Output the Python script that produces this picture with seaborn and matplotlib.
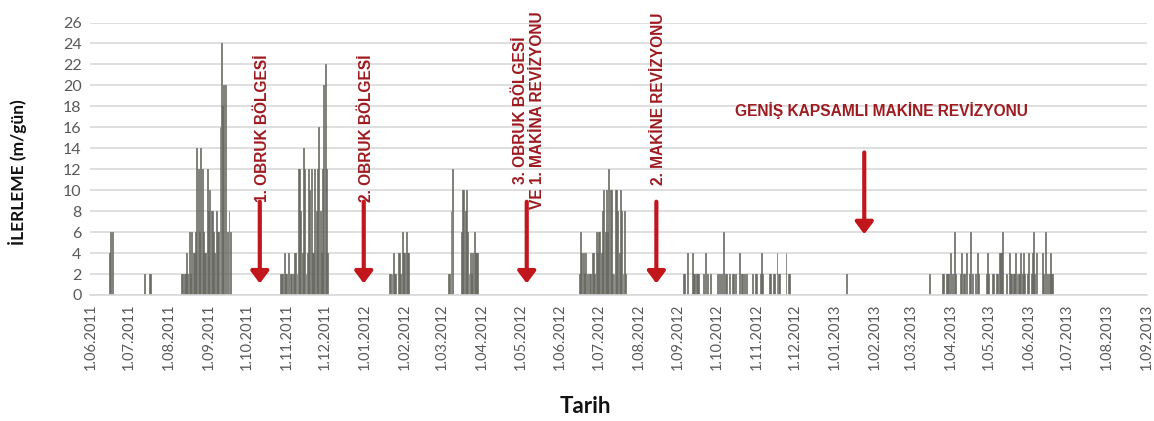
import pandas as pd
import matplotlib
matplotlib.use("Agg")
import matplotlib.pyplot as plt
import matplotlib.dates as mdates
import seaborn as sns

# Daily tunnel advance (m/day): each run starts on the given date and lists consecutive days
jun_2011_start = "2011-06-16"
jun_2011 = [4, 6, 6]

jul_2011_start = "2011-07-13"
jul_2011 = [2, 0, 0, 0, 2, 2]

aug_sep_2011_start = "2011-08-11"
aug_sep_2011 = [2, 2, 2, 2, 4, 2, 6, 2, 6, 4, 4, 6, 14, 12, 6, 14, 12, 6, 4, 4,
                12, 8, 10, 8, 8, 6, 4, 8, 6, 6, 16, 24, 18, 20, 20, 0, 6, 8, 6]

oct_dec_2011_start = "2011-10-27"
oct_dec_2011 = [2, 2, 2, 4, 2, 2, 4, 0, 2, 2, 2, 4, 4, 2, 12, 12, 8, 4, 14, 12,
                2, 4, 12, 10, 12, 4, 4, 12, 8, 12, 16, 8, 4, 12, 20, 22, 12, 4]

jan_feb_2012_start = "2012-01-20"
jan_feb_2012 = [2, 2, 2, 4, 2, 2, 0, 4, 4, 2, 6, 4, 4, 6, 4, 4]

mar_2012_start = "2012-03-06"
mar_2012 = [2, 2, 8, 12, 0, 0, 0, 0, 0, 0, 6, 10, 10, 8, 10, 6, 2, 4, 2, 4,
            6, 4, 4, 4]

jun_jul_2012_start = "2012-06-16"
jun_jul_2012 = [2, 6, 4, 4, 2, 4, 2, 0, 2, 2, 4, 4, 2, 6, 4, 6, 6, 4, 8, 10,
                6, 10, 6, 12, 10, 10, 2, 2, 10, 10, 8, 4, 10, 8, 2, 8, 2]

sep_nov_2012_start = "2012-09-05"
sep_nov_2012 = [2, 2, 0, 4, 0, 0, 0, 4, 2, 2, 2, 2, 2, 0, 0, 0, 2, 4, 0, 2,
                0, 2, 0, 0, 0, 0, 0, 2, 2, 0, 2, 6, 0, 2, 2, 0, 2, 0, 2, 2,
                0, 2, 0, 0, 4, 2, 2, 0, 2, 2, 0, 0, 0, 0, 2, 0, 2, 2, 0, 0,
                2, 4, 2, 0, 0, 0, 0, 2, 2, 0, 2, 2, 0, 4, 2, 2, 0, 0, 0, 0,
                4, 0, 2, 2]

jan_2013_start = "2013-01-10"
jan_2013 = [2]

mar_jun_2013_start = "2013-03-16"
mar_jun_2013 = [2, 0, 0, 0, 0, 0, 0, 0, 0, 0, 2, 2, 0, 2, 2, 2, 4, 0, 2, 6,
                2, 0, 0, 0, 2, 4, 2, 2, 0, 4, 0, 2, 6, 2, 0, 0, 2, 4, 2, 0,
                0, 0, 0, 0, 2, 4, 2, 0, 0, 2, 2, 0, 2, 2, 4, 4, 4, 6, 0, 0,
                2, 0, 4, 2, 2, 2, 2, 4, 2, 2, 2, 4, 2, 4, 2, 0, 2, 4, 0, 2,
                4, 6, 2, 4, 0, 0, 0, 0, 4, 2, 6, 0, 2, 2, 4, 2, 2]

runs = [
    (jun_2011_start, jun_2011),
    (jul_2011_start, jul_2011),
    (aug_sep_2011_start, aug_sep_2011),
    (oct_dec_2011_start, oct_dec_2011),
    (jan_feb_2012_start, jan_feb_2012),
    (mar_2012_start, mar_2012),
    (jun_jul_2012_start, jun_jul_2012),
    (sep_nov_2012_start, sep_nov_2012),
    (jan_2013_start, jan_2013),
    (mar_jun_2013_start, mar_jun_2013),
]

# Axis range and month ticks
axis_start = "2011-06-01"
axis_end = "2013-09-01"
tick_dates = pd.date_range(axis_start, axis_end, freq="MS")
tick_labels = [f"{d.day}.{d.month:02d}.{d.year}" for d in tick_dates]
y_ticks = list(range(0, 27, 2))

# Event annotations
obruk1_date, obruk1_text = "2011-10-11", "1. OBRUK BÖLGESİ"
obruk2_date, obruk2_text = "2011-12-31", "2. OBRUK BÖLGESİ"
obruk3_date, obruk3_text = "2012-05-06", "3. OBRUK BÖLGESİ\nVE 1. MAKİNA REVİZYONU"
rev2_date, rev2_text = "2012-08-15", "2. MAKİNE REVİZYONU"
rev_big_date, rev_big_text = "2013-01-24", "GENİŞ KAPSAMLI MAKİNE REVİZYONU"

rows = []
for start, values in runs:
    t0 = pd.Timestamp(start)
    for i, v in enumerate(values):
        if v > 0:
            d = t0 + pd.Timedelta(days=i)
            rows.append({"num": mdates.date2num(d), "value": v})
df = pd.DataFrame(rows)

sns.set_theme(style="white")
plt.rcParams["font.family"] = ["Lato", "DejaVu Sans"]

fig = plt.figure(figsize=(11.54, 4.21), dpi=100)
ax = fig.add_axes([90 / 1154, (421 - 295) / 421, (1147 - 90) / 1154, (295 - 22.5) / 421])

sns.barplot(data=df, x="num", y="value", native_scale=True, errorbar=None,
            color="#b0b0a9", saturation=1, edgecolor="#52524c", linewidth=0.45,
            width=0.75, ax=ax)

x0 = mdates.date2num(pd.Timestamp(axis_start))
x1 = mdates.date2num(pd.Timestamp(axis_end))
ax.set_xlim(x0 - 0.3, x1 + 0.3)
ax.set_ylim(0, 26)

ax.set_yticks(y_ticks)
ax.set_yticklabels([str(v) for v in y_ticks], fontsize=11.5, color="#595959")
ax.set_xticks(mdates.date2num(tick_dates))
ax.set_xticklabels(tick_labels, rotation=90, fontsize=10.5, color="#595959")
ax.tick_params(axis="both", length=0, pad=6)

ax.yaxis.grid(True, color="#d9d9d9", linewidth=1.2)
ax.xaxis.grid(False)
ax.set_axisbelow(True)
for side in ["top", "right", "left"]:
    ax.spines[side].set_visible(False)
ax.spines["bottom"].set_color("#d9d9d9")
ax.spines["bottom"].set_linewidth(1.2)

ax.set_xlabel("Tarih", fontsize=16, fontweight="bold", color="#111111")
ax.xaxis.set_label_coords(0.469, -0.372)
ax.set_ylabel("İLERLEME (m/gün)", fontsize=12.5, fontweight="bold", color="#111111")
ax.yaxis.set_label_coords(-0.0595, 0.45)

text_red = "#9e1b20"
arrow_red = "#c0161c"
arrow_props = dict(arrowstyle="-|>,head_width=0.45,head_length=0.6", lw=3,
                   color=arrow_red, shrinkA=0, shrinkB=0, mutation_scale=12)
afont = dict(family=["Liberation Sans", "DejaVu Sans"], fontsize=11.2,
             fontweight="bold", color=text_red)


def dnum(s, shift=0.0):
    return mdates.date2num(pd.Timestamp(s)) + shift


# vertical event arrows with rotated labels
for date, text, text_shift, text_y in [
    (obruk1_date, obruk1_text, 2.0, 8.9),
    (obruk2_date, obruk2_text, 2.5, 8.9),
    (rev2_date, rev2_text, 1.5, 10.5),
]:
    ax.annotate("", xy=(dnum(date), 1.1), xytext=(dnum(date), 8.9),
                arrowprops=arrow_props)
    ax.text(dnum(date, text_shift), text_y, text, rotation=90, ha="center",
            va="bottom", **afont)

ax.annotate("", xy=(dnum(obruk3_date), 1.1), xytext=(dnum(obruk3_date), 8.9),
            arrowprops=arrow_props)
ax.text(dnum(obruk3_date, 2.0), 17.6, obruk3_text, rotation=90, ha="center",
        va="center", multialignment="center", linespacing=1.15, **afont)

ax.annotate("", xy=(dnum(rev_big_date), 5.8), xytext=(dnum(rev_big_date), 13.6),
            arrowprops=arrow_props)
ax.text(dnum(rev_big_date, 13.5), 17.6, rev_big_text, ha="center", va="center", **afont)

fig.savefig("out.png", dpi=100)
